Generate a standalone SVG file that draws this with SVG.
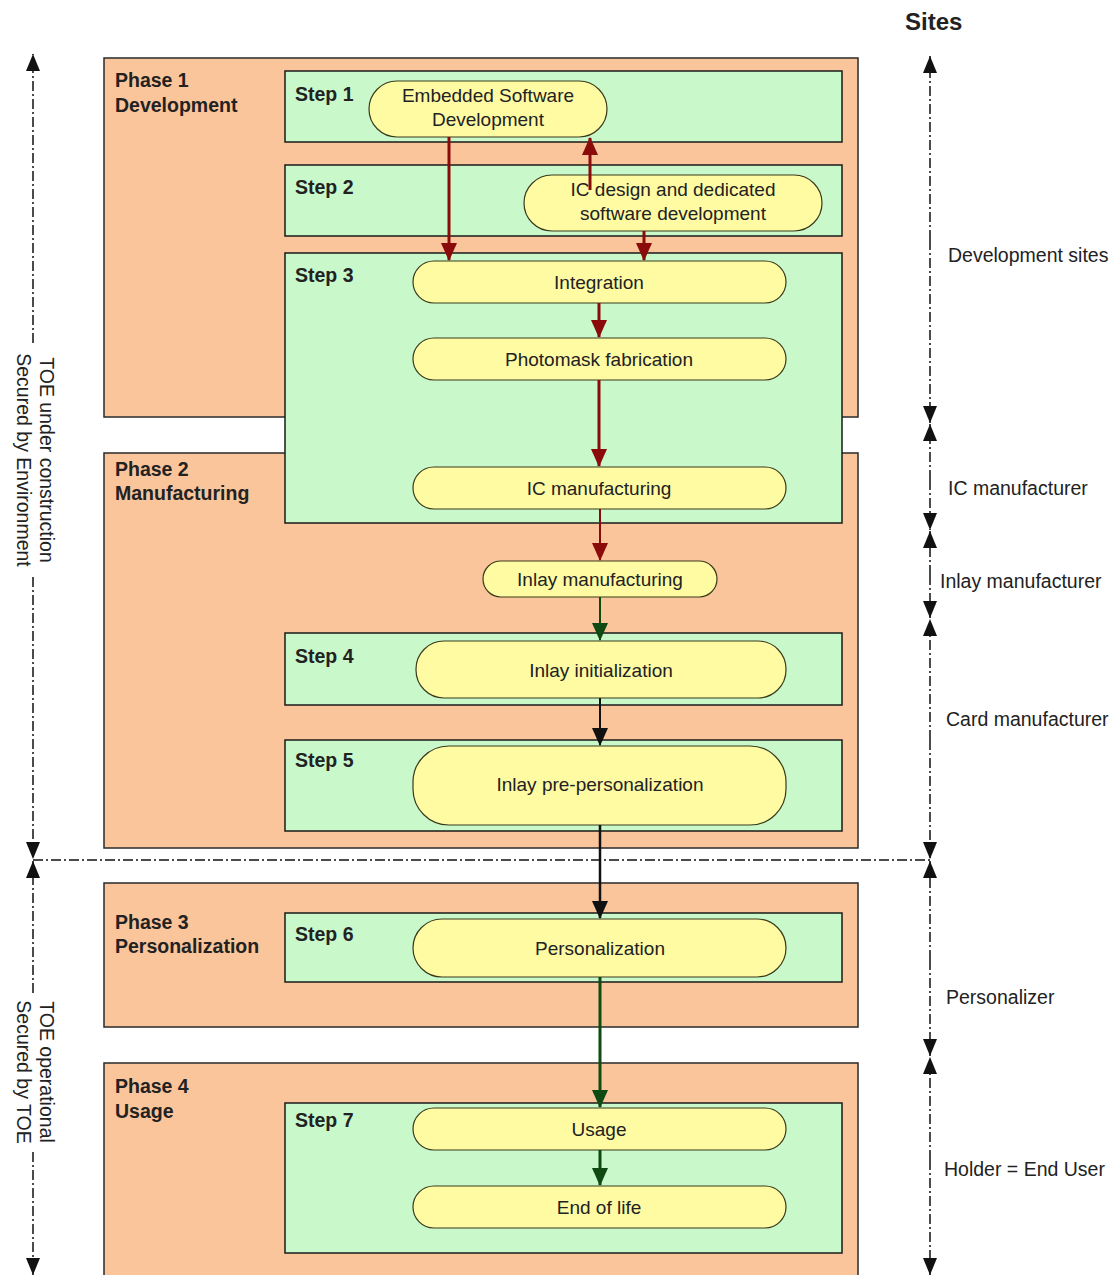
<svg xmlns="http://www.w3.org/2000/svg" width="1120" height="1275" viewBox="0 0 1120 1275">
<style>
.phase{fill:#FAC59B;stroke:#2a2a2a;stroke-width:1.5}
.step{fill:#C9F8CB;stroke:#1a1a1a;stroke-width:1.5}
.pill{fill:#FFFBA3;stroke:#3a3a1a;stroke-width:1.2}
.lbl{font-family:"Liberation Sans",Arial,sans-serif;font-weight:bold;font-size:19.5px;fill:#222}
.t{font-family:"Liberation Sans",Arial,sans-serif;font-size:19px;fill:#222;text-anchor:middle}
.site{font-family:"Liberation Sans",Arial,sans-serif;font-size:19.5px;fill:#222}
.dim{stroke:#111;stroke-width:1.5;stroke-dasharray:10,3,2,3;fill:none}
.red{stroke:#8B0A0A;stroke-width:3;fill:none}
.redt{stroke:#8B0A0A;stroke-width:2;fill:none}
.grn{stroke:#0E4A12;stroke-width:3;fill:none}
.blk{stroke:#111;stroke-width:2.5;fill:none}
</style>
<defs>
<marker id="ar" viewBox="0 0 18 18" markerWidth="18" markerHeight="18" refX="17" refY="9" orient="auto" markerUnits="userSpaceOnUse"><path d="M0,1 L18,9 L0,17 z" fill="#8B0A0A"/></marker>
<marker id="ag" viewBox="0 0 18 18" markerWidth="18" markerHeight="18" refX="17" refY="9" orient="auto" markerUnits="userSpaceOnUse"><path d="M0,1 L18,9 L0,17 z" fill="#0E4A12"/></marker>
<marker id="ab" viewBox="0 0 18 18" markerWidth="18" markerHeight="18" refX="17" refY="9" orient="auto" markerUnits="userSpaceOnUse"><path d="M0,1 L18,9 L0,17 z" fill="#111"/></marker>
<marker id="ad" viewBox="0 0 17 16" markerWidth="17" markerHeight="16" refX="17" refY="8" orient="auto" markerUnits="userSpaceOnUse"><path d="M0,1 L17,8 L0,15 z" fill="#111"/></marker>
</defs>
<rect width="1120" height="1275" fill="#fff"/>

<text x="905" y="30" class="lbl" style="font-size:24px">Sites</text>

<g id="phase1"><rect class="phase" x="104" y="58" width="754" height="359"/><text class="lbl" x="115" y="87">Phase 1</text><text class="lbl" x="115" y="112">Development</text></g>
<g id="phase2"><rect class="phase" x="104" y="453" width="754" height="395"/><text class="lbl" x="115" y="476">Phase 2</text><text class="lbl" x="115" y="500">Manufacturing</text></g>
<g id="phase3"><rect class="phase" x="104" y="883" width="754" height="144"/><text class="lbl" x="115" y="929">Phase 3</text><text class="lbl" x="115" y="953">Personalization</text></g>
<g id="phase4"><rect class="phase" x="104" y="1063" width="754" height="220"/><text class="lbl" x="115" y="1093">Phase 4</text><text class="lbl" x="115" y="1118">Usage</text></g>

<g id="step1"><rect class="step" x="285" y="71" width="557" height="71"/><text class="lbl" x="295" y="101">Step 1</text></g>
<g id="step2"><rect class="step" x="285" y="165" width="557" height="71"/><text class="lbl" x="295" y="194">Step 2</text></g>
<g id="step3"><rect class="step" x="285" y="253" width="557" height="270"/><text class="lbl" x="295" y="282">Step 3</text></g>
<g id="step4"><rect class="step" x="285" y="633" width="557" height="72"/><text class="lbl" x="295" y="663">Step 4</text></g>
<g id="step5"><rect class="step" x="285" y="740" width="557" height="91"/><text class="lbl" x="295" y="767">Step 5</text></g>
<g id="step6"><rect class="step" x="285" y="913" width="557" height="69"/><text class="lbl" x="295" y="941">Step 6</text></g>
<g id="step7"><rect class="step" x="285" y="1103" width="557" height="150"/><text class="lbl" x="295" y="1127">Step 7</text></g>

<g id="esd"><rect class="pill" x="369" y="81" width="238" height="56" rx="28"/><text class="t" x="488" y="102">Embedded Software</text><text class="t" x="488" y="126">Development</text></g>
<g id="icdesign"><rect class="pill" x="524" y="175" width="298" height="56" rx="28"/><text class="t" x="673" y="196">IC design and dedicated</text><text class="t" x="673" y="220">software development</text></g>
<g id="integration"><rect class="pill" x="413" y="261" width="373" height="42" rx="21"/><text class="t" x="599" y="289">Integration</text></g>
<g id="photomask"><rect class="pill" x="413" y="338" width="373" height="42" rx="21"/><text class="t" x="599" y="366">Photomask fabrication</text></g>
<g id="icmanuf"><rect class="pill" x="413" y="467" width="373" height="42" rx="21"/><text class="t" x="599" y="495">IC manufacturing</text></g>
<g id="inlaymanuf"><rect class="pill" x="483" y="561" width="234" height="36" rx="18"/><text class="t" x="600" y="586">Inlay manufacturing</text></g>
<g id="inlayinit"><rect class="pill" x="416" y="641" width="370" height="57" rx="28"/><text class="t" x="601" y="677">Inlay initialization</text></g>
<g id="inlaypre"><rect class="pill" x="413" y="746" width="373" height="79" rx="36"/><text class="t" x="600" y="791">Inlay pre-personalization</text></g>
<g id="perso"><rect class="pill" x="413" y="919" width="373" height="58" rx="29"/><text class="t" x="600" y="955">Personalization</text></g>
<g id="usage"><rect class="pill" x="413" y="1108" width="373" height="42" rx="21"/><text class="t" x="599" y="1136">Usage</text></g>
<g id="eol"><rect class="pill" x="413" y="1186" width="373" height="42" rx="21"/><text class="t" x="599" y="1214">End of life</text></g>

<g id="connectors">
<line class="red" x1="449" y1="137" x2="449" y2="260" marker-end="url(#ar)"/>
<line class="red" x1="590" y1="190" x2="590" y2="138" marker-end="url(#ar)"/>
<line class="red" x1="644" y1="231" x2="644" y2="260" marker-end="url(#ar)"/>
<line class="red" x1="599" y1="303" x2="599" y2="337" marker-end="url(#ar)"/>
<line class="red" x1="599" y1="380" x2="599" y2="466" marker-end="url(#ar)"/>
<line class="redt" x1="600" y1="509" x2="600" y2="560" marker-end="url(#ar)"/>
<line class="grn" x1="600" y1="597" x2="600" y2="640" style="stroke-width:2" marker-end="url(#ag)"/>
<line class="blk" x1="600" y1="698" x2="600" y2="745" style="stroke-width:2" marker-end="url(#ab)"/>
<line class="blk" x1="600" y1="825" x2="600" y2="918" marker-end="url(#ab)"/>
<line class="grn" x1="600" y1="977" x2="600" y2="1107" marker-end="url(#ag)"/>
<line class="grn" x1="600" y1="1150" x2="600" y2="1185" marker-end="url(#ag)"/>
</g>

<g id="boundary">
<line class="dim" x1="33" y1="860" x2="930" y2="860"/>
</g>

<g id="left-dim">
<line class="dim" x1="33" y1="343" x2="33" y2="54" marker-end="url(#ad)"/>
<line class="dim" x1="33" y1="577" x2="33" y2="859" marker-end="url(#ad)"/>
<line class="dim" x1="33" y1="993" x2="33" y2="861" marker-end="url(#ad)"/>
<line class="dim" x1="33" y1="1152" x2="33" y2="1275" marker-end="url(#ad)"/>
<text class="site" transform="translate(40,460) rotate(90)" text-anchor="middle">TOE under construction</text>
<text class="site" transform="translate(17,460) rotate(90)" text-anchor="middle">Secured by Environment</text>
<text class="site" transform="translate(40,1072) rotate(90)" text-anchor="middle">TOE operational</text>
<text class="site" transform="translate(17,1072) rotate(90)" text-anchor="middle">Secured by TOE</text>
</g>

<g id="right-dim">
<line class="dim" x1="930" y1="240" x2="930" y2="56" marker-end="url(#ad)"/>
<line class="dim" x1="930" y1="240" x2="930" y2="423" marker-end="url(#ad)"/>
<line class="dim" x1="930" y1="480" x2="930" y2="424" marker-end="url(#ad)"/>
<line class="dim" x1="930" y1="480" x2="930" y2="530" marker-end="url(#ad)"/>
<line class="dim" x1="930" y1="575" x2="930" y2="531" marker-end="url(#ad)"/>
<line class="dim" x1="930" y1="575" x2="930" y2="618" marker-end="url(#ad)"/>
<line class="dim" x1="930" y1="740" x2="930" y2="619" marker-end="url(#ad)"/>
<line class="dim" x1="930" y1="740" x2="930" y2="859" marker-end="url(#ad)"/>
<line class="dim" x1="930" y1="960" x2="930" y2="861" marker-end="url(#ad)"/>
<line class="dim" x1="930" y1="960" x2="930" y2="1056" marker-end="url(#ad)"/>
<line class="dim" x1="930" y1="1160" x2="930" y2="1057" marker-end="url(#ad)"/>
<line class="dim" x1="930" y1="1160" x2="930" y2="1275" marker-end="url(#ad)"/>
<text class="site" x="948" y="262">Development sites</text>
<text class="site" x="948" y="495">IC manufacturer</text>
<text class="site" x="940" y="588">Inlay manufacturer</text>
<text class="site" x="946" y="726">Card manufacturer</text>
<text class="site" x="946" y="1004">Personalizer</text>
<text class="site" x="944" y="1176">Holder = End User</text>
</g>
</svg>
